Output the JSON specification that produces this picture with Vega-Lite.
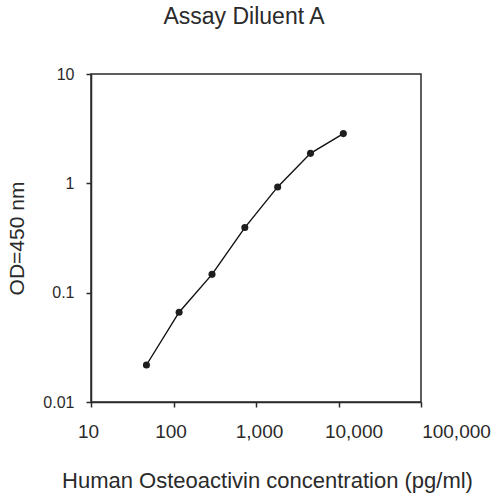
{
  "$schema": "https://vega.github.io/schema/vega-lite/v6.json",
  "autosize": {"type": "none"},
  "padding": {"left": 91, "top": 74, "right": 79, "bottom": 99},
  "width": 330,
  "height": 328,
  "background": "white",
  "title": {
    "text": "Assay Diluent A",
    "font": "Liberation Sans",
    "fontSize": 23,
    "fontWeight": "normal",
    "color": "#2a2a2a",
    "anchor": "middle",
    "offset": 37,
    "dx": -12
  },
  "data": {
    "values": [
      {"conc": 47, "od": 0.0218},
      {"conc": 117, "od": 0.0662},
      {"conc": 293, "od": 0.147},
      {"conc": 732, "od": 0.394},
      {"conc": 1831, "od": 0.927},
      {"conc": 4578, "od": 1.88},
      {"conc": 11444, "od": 2.85}
    ]
  },
  "config": {
    "view": {"stroke": "#2a2a2a", "strokeWidth": 1.5},
    "axis": {
      "grid": false,
      "domainColor": "#2a2a2a",
      "domainWidth": 1.5,
      "tickColor": "#2a2a2a",
      "tickWidth": 1.5,
      "tickSize": 5,
      "labelFont": "Liberation Sans",
      "labelColor": "#2a2a2a",
      "titleFont": "Liberation Sans",
      "titleColor": "#2a2a2a",
      "titleFontWeight": "normal",
      "labelOverlap": false,
      "labelFlush": false
    }
  },
  "encoding": {
    "x": {
      "field": "conc",
      "type": "quantitative",
      "scale": {"type": "log", "domain": [10, 100000]},
      "axis": {
        "title": "Human Osteoactivin concentration (pg/ml)",
        "values": [10, 100, 1000, 10000, 100000],
        "format": ",",
        "labelFontSize": 19,
        "labelBaseline": "alphabetic",
        "labelPadding": 30,
        "labelOffset": {"expr": "datum.value == 100000 ? 35 : datum.value == 10000 ? 15 : datum.value == 1000 ? 3 : -3"},
        "titleFontSize": 22,
        "titleBaseline": "alphabetic",
        "titleX": 176,
        "titleY": 85
      }
    },
    "y": {
      "field": "od",
      "type": "quantitative",
      "scale": {"type": "log", "domain": [0.01, 10]},
      "axis": {
        "title": "OD=450 nm",
        "values": [0.01, 0.1, 1, 10],
        "format": "~g",
        "labelFontSize": 16,
        "labelPadding": 12,
        "titleFontSize": 21,
        "titleBaseline": "alphabetic",
        "titleX": -68,
        "titleY": 164
      }
    }
  },
  "layer": [
    {
      "mark": {"type": "line", "color": "#111111", "strokeWidth": 1.4}
    },
    {
      "mark": {"type": "point", "filled": true, "shape": "circle", "size": 50, "color": "#1e1e1e", "opacity": 1}
    }
  ]
}
